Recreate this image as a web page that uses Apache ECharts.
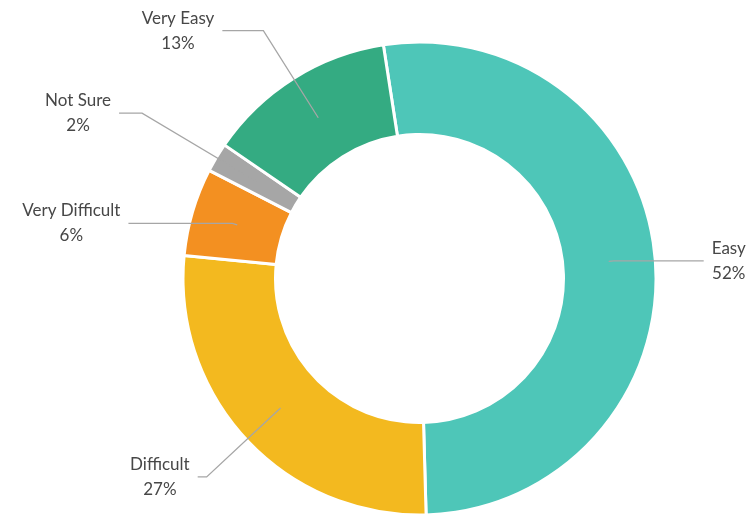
<!DOCTYPE html>
<html>
<head>
<meta charset="utf-8">
<script src="https://cdn.jsdelivr.net/npm/echarts@6/dist/echarts.min.js"></script>
<style>
  html, body { margin: 0; padding: 0; background: #ffffff; }
  #chart { width: 751px; height: 516px; }
</style>
</head>
<body>
<div id="chart"></div>
<script>
// ---- data ----
var categories = ['Easy', 'Difficult', 'Very Difficult', 'Not Sure', 'Very Easy'];
var percentValues = [52, 27, 6, 2, 13];

// ---- styles ----
var sliceColors = ['#4EC6B8', '#F3B91F', '#F39021', '#A6A6A6', '#34AB82'];
var leaderLengths = [[5, 90], [101, 9], [5, 104], [133, 23], [103, 41]];
var FONT = 'Lato, "Open Sans", sans-serif';
var TEXT_COLOR = '#474747';

var chart = echarts.init(document.getElementById('chart'), null, { renderer: 'canvas' });

var donutData = categories.map(function (name, i) {
  return { name: name, value: percentValues[i], itemStyle: { color: sliceColors[i] } };
});
var labelData = categories.map(function (name, i) {
  return {
    name: name,
    value: percentValues[i],
    labelLine: { length: leaderLengths[i][0], length2: leaderLengths[i][1] }
  };
});

var CENTER = [419.5, 278.5];

var option = {
  animation: false,
  backgroundColor: '#ffffff',
  series: [
    {
      type: 'pie',
      center: CENTER,
      radius: [144, 236.5],
      startAngle: 98.8,
      clockwise: true,
      silent: true,
      label: { show: false },
      labelLine: { show: false },
      itemStyle: { borderColor: '#ffffff', borderWidth: 3 },
      emphasis: { disabled: true },
      data: donutData
    },
    {
      type: 'pie',
      center: CENTER,
      radius: [0, 190],
      startAngle: 98.8,
      clockwise: true,
      silent: true,
      z: 5,
      itemStyle: { color: 'rgba(0,0,0,0)', borderWidth: 0 },
      emphasis: { disabled: true },
      avoidLabelOverlap: false,
      label: {
        show: true,
        position: 'outside',
        alignTo: 'none',
        distanceToLabelLine: 8,
        color: TEXT_COLOR,
        fontFamily: FONT,
        fontSize: 17,
        lineHeight: 25,
        formatter: function (p) {
          return '{c|' + p.name + '}\n{c|' + p.value + '%}';
        },
        rich: {
          c: { align: 'center', color: TEXT_COLOR, fontFamily: FONT, fontSize: 17, lineHeight: 25 }
        }
      },
      labelLine: {
        show: true,
        lineStyle: { color: '#A6A6A6', width: 1.3 }
      },
      data: labelData
    }
  ]
};
chart.setOption(option);
</script>
</body>
</html>
